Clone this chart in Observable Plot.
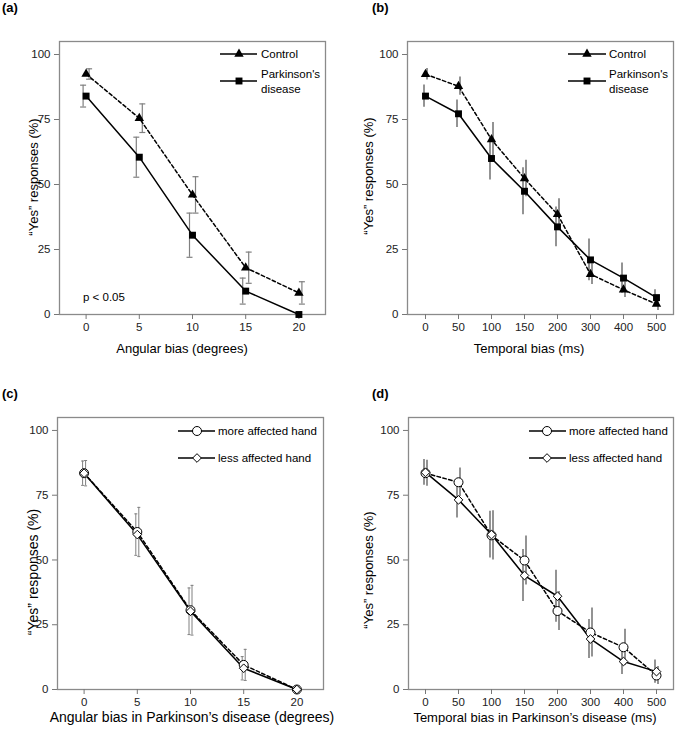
<!DOCTYPE html>
<html><head><meta charset="utf-8">
<script src="https://cdn.jsdelivr.net/npm/d3@7"></script>
<script src="https://cdn.jsdelivr.net/npm/@observablehq/plot@0.6"></script>
<style>
body{margin:0;background:#fff;}
#wrap{position:relative;width:675px;height:733px;font-family:"Liberation Sans",Arial,sans-serif;background:#fff;}
#wrap svg{position:absolute;overflow:visible;}
</style></head><body><div id="wrap"></div>
<script>
// ---- data ----
const angles = [0, 5, 10, 15, 20];
const times = ["0", "50", "100", "150", "200", "300", "400", "500"];
const yTicks = [0, 25, 50, 75, 100];

const aControl    = [92.5, 75.5, 46, 18, 8.3];
const aControlErr = [2, 5.5, 7, 6, 4.3];
const aPD         = [84, 60.5, 30.5, 9, 0];
const aPDErr      = [4.2, 7.7, 8.5, 5, 0];

const bControl    = [92.4, 87.8, 67.3, 52.3, 38.5, 15.5, 9.5, 4];
const bControlErr = [2.2, 3.5, 6.5, 7, 6, 4, 3, 2.5];
const bPD         = [84, 77.2, 60, 47.4, 33.7, 21, 14, 6.5];
const bPDErr      = [4.3, 5.3, 8.3, 9, 7.6, 8, 5.8, 3];

const cMore    = [83.5, 60.8, 30.6, 9.5, 0];
const cMoreErr = [4.9, 9.5, 9.6, 6, 0];
const cLess    = [83.5, 59.8, 30.2, 8.2, 0];
const cLessErr = [4.7, 8, 9, 4.5, 0];

const dMore    = [83.5, 80, 59.5, 49.8, 30.3, 22, 16.3, 5.4];
const dMoreErr = [5, 5.5, 9.5, 9.5, 7.5, 9.5, 7, 3.5];
const dLess    = [83.8, 73.2, 59.8, 44, 36, 19.5, 10.8, 6.9];
const dLessErr = [5, 7, 9, 10, 10, 7.5, 5, 4.5];

// ---- helpers ----
const FONT = "Liberation Sans, Arial, sans-serif";
function rows(xs, vals, errs) {
  return xs.map((x, i) => ({x, y: vals[i], lo: vals[i] - errs[i], hi: vals[i] + errs[i], e: errs[i]}));
}
const capSymbol = w => ({draw(ctx) { ctx.moveTo(-w / 2, 0); ctx.lineTo(w / 2, 0); }});
const d3sym = {triangle: d3.symbolTriangle, square: d3.symbolSquare, circle: d3.symbolCircle, diamond2: d3.symbolDiamond2};

function panel(cfg) {
  const marks = [
    Plot.frame({stroke: "#8a8a8a", strokeWidth: 1.3}),
    Plot.axisY({ticks: yTicks, tickSize: 5, tickPadding: 4, label: null, stroke: "#777", fill: "#222"}),
    Plot.axisX({ticks: cfg.xticks, tickSize: 5, tickPadding: 3, label: null, stroke: "#777", fill: "#222"})
  ];
  for (const s of cfg.series) {
    const d = rows(cfg.xs, s.vals, s.errs).filter(r => r.e > 0);
    marks.push(Plot.ruleX(d, {x: "x", y1: "lo", y2: "hi", dx: s.dx, stroke: "#808080", strokeWidth: cfg.errWidth}));
    if (cfg.cap) {
      for (const k of ["lo", "hi"]) {
        marks.push(Plot.dot(d, {x: "x", y: k, dx: s.dx, symbol: capSymbol(cfg.cap), fill: "none", stroke: "#808080", strokeWidth: cfg.errWidth}));
      }
    }
  }
  for (const s of cfg.series) {
    const d = rows(cfg.xs, s.vals, s.errs);
    marks.push(Plot.line(d, {x: "x", y: "y", stroke: "black", strokeWidth: 1.5, strokeDasharray: s.dashed ? "3.5,2.5" : null}));
  }
  for (const s of cfg.series) {
    const d = rows(cfg.xs, s.vals, s.errs);
    marks.push(Plot.dot(d, {x: "x", y: "y", symbol: s.symbol, r: s.r, fill: s.fill, stroke: s.fill === "white" ? "black" : "none", strokeWidth: 1}));
  }
  const svg = Plot.plot({
    width: cfg.width, height: cfg.height,
    marginLeft: cfg.ml, marginRight: cfg.mr, marginTop: cfg.mt, marginBottom: cfg.mb,
    x: cfg.x,
    y: {domain: [0, 105]},
    style: {fontSize: "11.5px", fontFamily: FONT, color: "#222", background: "transparent", overflow: "visible"},
    marks
  });
  svg.style.left = cfg.left + "px";
  svg.style.top = cfg.top + "px";
  const g = d3.select(svg).append("g").attr("font-family", FONT).attr("fill", "black").attr("text-anchor", "start");
  // panel letter
  g.append("text").attr("x", cfg.letterX).attr("y", cfg.letterY).attr("font-size", 13).attr("font-weight", "bold").attr("text-anchor", "start").text(cfg.letter);
  // y label
  g.append("text").attr("transform", `translate(${cfg.ylabX},${cfg.ylabY}) rotate(-90)`).attr("text-anchor", "middle")
    .attr("font-size", cfg.labSize).attr("dy", "0.35em").text("\u201cYes\u201d responses (%)");
  // x label
  g.append("text").attr("x", cfg.xlabX).attr("y", cfg.xlabY).attr("text-anchor", "middle").attr("font-size", cfg.labSize).text(cfg.xlabel);
  // legend
  const L = cfg.legend;
  cfg.series.forEach((s, i) => {
    const y = L.ys[i];
    g.append("line").attr("x1", L.x1).attr("x2", L.x2).attr("y1", y).attr("y2", y).attr("stroke", "black").attr("stroke-width", 1.5);
    g.append("path").attr("transform", `translate(${L.xm},${y})`)
      .attr("d", d3.symbol(d3sym[s.symbol], Math.PI * s.r * s.r)())
      .attr("fill", s.fill).attr("stroke", s.fill === "white" ? "black" : "none").attr("stroke-width", 1);
    const lines = s.label;
    const y0 = y - (lines.length - 1) * 7.5;
    lines.forEach((t, j) => {
      g.append("text").attr("x", L.xt).attr("y", y0 + j * 15).attr("dy", "0.35em").attr("font-size", 11.5).attr("text-anchor", "start").text(t);
    });
  });
  if (cfg.note) {
    g.append("text").attr("x", cfg.note.x).attr("y", cfg.note.y).attr("dy", "0.35em").attr("font-size", 11.5).attr("text-anchor", "start").text(cfg.note.text);
  }
  document.getElementById("wrap").appendChild(svg);
}

const linX = {domain: [-2.5, 22.5]};
const ptX = {type: "point", domain: times, padding: 0.5};

panel({
  left: 0, top: 0, width: 337, height: 365, ml: 59, mr: 12, mt: 41, mb: 51,
  x: linX, xs: angles, xticks: angles, errWidth: 1.2, cap: 6,
  series: [
    {vals: aControl, errs: aControlErr, symbol: "triangle", r: 3.5, fill: "black", dashed: true, dx: 3, label: ["Control"]},
    {vals: aPD, errs: aPDErr, symbol: "square", r: 3.9, fill: "black", dashed: false, dx: -3, label: ["Parkinson's", "disease"]}
  ],
  letter: "(a)", letterX: 2, letterY: 12,
  ylabX: 33, ylabY: 177, xlabX: 182, xlabY: 353, labSize: 13, xlabel: "Angular bias (degrees)",
  legend: {x1: 220, x2: 257, xm: 239, xt: 261, ys: [54, 81]},
  note: {x: 83, y: 297, text: "p < 0.05"}
});

panel({
  left: 337, top: 0, width: 338, height: 365, ml: 70, mr: 2, mt: 41, mb: 51,
  x: ptX, xs: times, xticks: times, errWidth: 1.7, cap: 0,
  series: [
    {vals: bControl, errs: bControlErr, symbol: "triangle", r: 3.5, fill: "black", dashed: true, dx: 1.5, label: ["Control"]},
    {vals: bPD, errs: bPDErr, symbol: "square", r: 3.9, fill: "black", dashed: false, dx: -1.5, label: ["Parkinson's", "disease"]}
  ],
  letter: "(b)", letterX: 35, letterY: 12,
  ylabX: 31, ylabY: 176, xlabX: 192, xlabY: 353, labSize: 13, xlabel: "Temporal bias (ms)",
  legend: {x1: 231, x2: 269, xm: 250, xt: 272, ys: [54, 81]}
});

panel({
  left: 0, top: 365, width: 337, height: 368, ml: 57, mr: 14, mt: 52, mb: 44,
  x: linX, xs: angles, xticks: angles, errWidth: 1, cap: 3,
  series: [
    {vals: cMore, errs: cMoreErr, symbol: "circle", r: 4.5, fill: "white", dashed: true, dx: 1.5, label: ["more affected hand"]},
    {vals: cLess, errs: cLessErr, symbol: "diamond2", r: 3.9, fill: "white", dashed: false, dx: -1.5, label: ["less affected hand"]}
  ],
  letter: "(c)", letterX: 2, letterY: 33,
  ylabX: 33, ylabY: 207, xlabX: 192, xlabY: 357, labSize: 14, xlabel: "Angular bias in Parkinson\u2019s disease (degrees)",
  legend: {x1: 178, x2: 215, xm: 197, xt: 218, ys: [66, 93]}
});

panel({
  left: 337, top: 365, width: 338, height: 368, ml: 71, mr: 2, mt: 52, mb: 44,
  x: ptX, xs: times, xticks: times, errWidth: 1.7, cap: 0,
  series: [
    {vals: dMore, errs: dMoreErr, symbol: "circle", r: 4.5, fill: "white", dashed: true, dx: 1.5, label: ["more affected hand"]},
    {vals: dLess, errs: dLessErr, symbol: "diamond2", r: 3.9, fill: "white", dashed: false, dx: -1.5, label: ["less affected hand"]}
  ],
  letter: "(d)", letterX: 35, letterY: 33,
  ylabX: 31, ylabY: 205, xlabX: 198, xlabY: 357, labSize: 13, xlabel: "Temporal bias in Parkinson\u2019s disease (ms)",
  legend: {x1: 192, x2: 229, xm: 210, xt: 232, ys: [66, 93]}
});
</script></body></html>
